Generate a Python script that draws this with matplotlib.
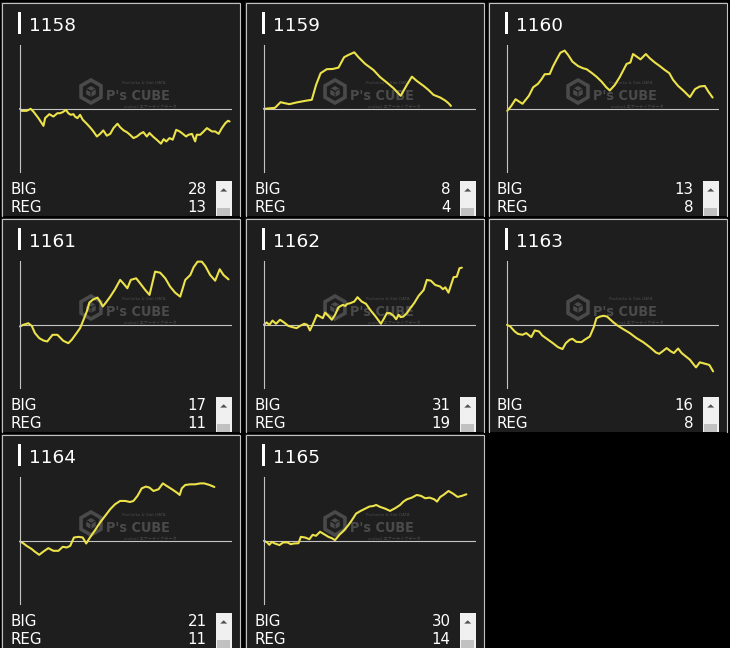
import matplotlib
matplotlib.use('Agg')
import matplotlib.pyplot as plt
from matplotlib import font_manager
from matplotlib.patches import Rectangle, RegularPolygon, Polygon

# 台番号・ボーナス回数
machines = ['1158', '1159', '1160', '1161', '1162', '1163', '1164', '1165']
big_counts = [28, 8, 13, 17, 31, 16, 21, 30]
reg_counts = [13, 4, 8, 11, 19, 8, 11, 14]

# スランプグラフ (G数, 差枚)
g1158 = [0, 60, 250, 400, 500, 690, 880, 940, 1100, 1250, 1400, 1500, 1600, 1720, 1810, 1900,
         2000, 2060, 2150, 2250, 2350, 2500, 2650, 2750, 2880, 3000, 3120, 3250, 3380, 3500,
         3650, 3750, 3880, 4000, 4120, 4250, 4380, 4500, 4620, 4750, 4850, 5000, 5120, 5280,
         5380, 5480, 5600, 5720, 5850, 5980, 6100, 6220, 6310, 6440, 6560, 6620, 6750, 6880,
         7000, 7100, 7190, 7310, 7440, 7560, 7690, 7790, 7850]
c1158 = [0, -150, -150, 0, -200, -700, -1280, -700, -400, -580, -330, -330, -250, -80, -330, -450,
         -400, -580, -700, -450, -820, -1120, -1450, -1700, -2080, -1880, -1620, -2020, -1880, -1450,
         -1120, -1380, -1620, -1750, -1950, -2200, -2080, -1880, -1750, -2080, -1820, -2120, -2320, -2620,
         -2280, -2450, -2200, -2320, -1580, -1700, -1880, -2080, -1950, -1880, -2450, -1950, -1950, -1700,
         -1450, -1580, -1700, -1700, -1880, -1450, -1080, -900, -950]

g1159 = [0, 410, 620, 790, 950, 1220, 1540, 1790, 1950, 2120, 2350, 2580, 2790, 3000, 3160, 3380,
         3540, 3790, 4100, 4350, 4600, 4850, 5120, 5350, 5540, 5720, 5980, 6160, 6350, 6600, 6790,
         6910, 7000]
c1159 = [0, 75, 500, 420, 350, 480, 600, 680, 1800, 2680, 2980, 3000, 3100, 3880, 4050, 4250,
         3880, 3380, 2920, 2380, 1980, 1550, 980, 1800, 2420, 2100, 1720, 1420, 1050, 850, 620,
         420, 220]

g1160 = [10, 160, 320, 450, 580, 700, 820, 980, 1160, 1290, 1410, 1600, 1720, 1850, 2000, 2160,
         2290, 2450, 2660, 2850, 2980, 3160, 3350, 3540, 3720, 3850, 4040, 4220, 4350, 4480, 4620,
         4720, 4820, 5000, 5200, 5350, 5540, 5720, 5910, 6080, 6220, 6410, 6600, 6850, 7040, 7220,
         7410, 7540, 7700]
c1160 = [-150, 220, 720, 550, 380, 680, 980, 1620, 1880, 2220, 2600, 2620, 3180, 3680, 4220, 4380,
         4050, 3550, 3220, 3050, 2980, 2720, 2420, 2050, 1620, 1380, 1800, 2380, 2880, 3380, 3480,
         4120, 3980, 3720, 4120, 3800, 3480, 3220, 2920, 2680, 2180, 1720, 1380, 880, 1480, 1680,
         1720, 1300, 850]

g1161 = [0, 120, 310, 440, 560, 720, 880, 1020, 1120, 1220, 1400, 1500, 1620, 1810, 1940, 2120,
         2250, 2380, 2500, 2600, 2720, 2900, 3000, 3100, 3220, 3380, 3560, 3750, 3900, 4020, 4150,
         4350, 4500, 4690, 4850, 5060, 5250, 5440, 5620, 5810, 6000, 6190, 6380, 6500, 6650, 6810,
         6940, 7120, 7310, 7480, 7620, 7810]
c1161 = [-120, 0, 120, -80, -620, -1000, -1180, -1250, -1000, -750, -750, -950, -1200, -1380, -1120, -620,
         -250, 380, 1000, 1680, 1880, 2050, 1750, 1380, 1680, 2120, 2680, 3380, 3050, 2750, 3380,
         3500, 3120, 2620, 2250, 4000, 3920, 3500, 2880, 2420, 2120, 3380, 3750, 4320, 4750, 4750,
         4420, 3750, 3320, 4180, 3750, 3420]

g1162 = [0, 100, 200, 320, 450, 600, 750, 910, 1080, 1220, 1350, 1510, 1620, 1720, 1820, 1980,
         2100, 2200, 2290, 2410, 2540, 2660, 2790, 2950, 3040, 3120, 3220, 3380, 3500, 3660, 3820,
         3980, 4160, 4380, 4500, 4600, 4720, 4850, 4950, 5040, 5120, 5220, 5350, 5480, 5620, 5790,
         5980, 6100, 6250, 6410, 6600, 6700, 6790, 6910, 7100, 7220, 7320, 7410]
c1162 = [0, 180, 0, 320, 80, 380, 180, -80, -180, -250, -80, 80, 0, -420, 0, 750,
         620, 500, 920, 680, 380, 750, 1320, 1500, 1420, 1580, 1620, 1750, 2080, 1750, 1580,
         1120, 680, 80, 500, 880, 880, 680, 420, 750, 580, 620, 880, 1250, 1620, 2180,
         2620, 3380, 3320, 3000, 2880, 2680, 2820, 2420, 3580, 3620, 4250, 4300]

g1163 = [0, 120, 290, 410, 580, 720, 910, 1040, 1200, 1320, 1540, 1720, 1910, 2080, 2200, 2350,
         2450, 2600, 2790, 2910, 3100, 3250, 3350, 3480, 3620, 3750, 3910, 4100, 4350, 4600, 4850,
         5100, 5350, 5580, 5700, 5820, 5980, 6140, 6250, 6410, 6540, 6700, 6850, 6950, 7080, 7220,
         7410, 7580, 7720]
c1163 = [0, -120, -500, -680, -750, -620, -920, -420, -500, -800, -1120, -1380, -1680, -1820, -1380, -1120,
         -1050, -1280, -1300, -1120, -880, -180, 500, 620, 680, 620, 320, 0, -320, -620, -1000,
         -1300, -1680, -2080, -2180, -2000, -1750, -2000, -2120, -1780, -2120, -2380, -2620, -2880, -3200, -2820,
         -2920, -3020, -3500]

g1164 = [0, 120, 250, 440, 560, 720, 880, 1060, 1250, 1440, 1600, 1750, 1880, 2020, 2190, 2350,
         2480, 2620, 2810, 3000, 3190, 3380, 3560, 3750, 3940, 4120, 4250, 4400, 4560, 4720, 4850,
         5000, 5190, 5350, 5500, 5690, 5880, 5980, 6060, 6190, 6380, 6560, 6750, 6900, 7100, 7280]
c1164 = [-50, -180, -380, -620, -820, -1050, -800, -550, -750, -750, -450, -500, -380, 250, 300, 250,
         -200, 250, 800, 1380, 1880, 2380, 2750, 3000, 3000, 2920, 3000, 3380, 3950, 4080, 4000,
         3750, 3880, 4320, 4120, 3880, 3620, 3450, 3950, 4200, 4250, 4250, 4320, 4320, 4200, 4050]

g1165 = [0, 120, 200, 290, 410, 580, 720, 880, 1000, 1120, 1290, 1380, 1540, 1700, 1820, 1950,
         2100, 2250, 2410, 2540, 2660, 2820, 2980, 3160, 3290, 3450, 3620, 3790, 3950, 4100, 4200,
         4350, 4540, 4720, 4910, 5100, 5220, 5350, 5540, 5720, 5880, 6040, 6200, 6380, 6480, 6600,
         6720, 6910, 7080, 7250, 7410, 7580]
c1165 = [0, -120, -300, -80, -200, -320, -120, -120, -250, -200, -180, 300, 250, 120, 450, 380,
         680, 500, 300, 200, 50, 450, 750, 1180, 1550, 2050, 2250, 2420, 2580, 2620, 2700,
         2550, 2420, 2250, 2450, 2700, 2950, 3120, 3250, 3450, 3380, 3200, 3250, 3120, 2950, 3300,
         3450, 3750, 3550, 3300, 3380, 3500]

games = [g1158, g1159, g1160, g1161, g1162, g1163, g1164, g1165]
coins = [c1158, c1159, c1160, c1161, c1162, c1163, c1164, c1165]

W, H = 730, 648
col_left = [1, 245, 488]
row_top = [2, 218, 434]
PW, PH = 239, 214

panel_bg = '#1e1e1e'
border = '#c2c2c2'
axis_gray = '#c4c4c4'
line_yellow = '#ece24a'
mark_gray = '#4a4a4a'

# ロゴ用フォント (細いものがあれば使う)
logo_font = font_manager.FontProperties(family='DejaVu Sans', weight='bold', stretch='condensed')
logo_size = 10.4 if 'Condensed' in font_manager.findfont(logo_font) else 9.3

fig = plt.figure(figsize=(W / 100, H / 100), dpi=100, facecolor='black')
bg = fig.add_axes([0, 0, 1, 1])
bg.set_xlim(0, W)
bg.set_ylim(H, 0)
bg.axis('off')

for i, name in enumerate(machines):
    r, c = divmod(i, 3)
    L, T = col_left[c], row_top[r]

    # パネル
    bg.add_patch(Rectangle((L, T), PW, PH, fc=panel_bg, ec='none'))
    bg.plot([L + 0.5, L + 0.5, L + PW - 0.5, L + PW - 0.5], [T + PH, T + 0.5, T + 0.5, T + PH],
            color=border, lw=0.8, solid_joinstyle='miter')

    # 見出し
    bg.add_patch(Rectangle((L + 17, T + 10), 3, 22, fc='white', ec='none'))
    bg.text(L + 28, T + 29, name, color='white', fontsize=13.3, va='baseline', ha='left')

    # ウォーターマーク
    cx, cy = L + 90, T + 89.5
    bg.add_patch(RegularPolygon((cx, cy), 6, radius=11.5, fc='none', ec=mark_gray, lw=2.6))
    bg.add_patch(RegularPolygon((cx, cy), 6, radius=5.5, fc=mark_gray, ec='none'))
    bg.plot([cx, cx, cx - 4.7, cx, cx + 4.7], [cy + 5.5, cy, cy - 2.7, cy, cy - 2.7],
            color=panel_bg, lw=0.7)
    bg.text(L + 105, T + 98, "P's CUBE", color=mark_gray, fontproperties=logo_font,
            fontsize=logo_size, va='baseline', ha='left')
    bg.text(L + 121, T + 82.5, 'Pachinko & Slot DATA', color=mark_gray, fontsize=3.0,
            va='baseline', ha='left')
    bg.text(L + 123, T + 106, 'andeu2 エアーライクデータ', color=mark_gray, fontsize=3.0,
            family=['Noto Sans CJK JP', 'DejaVu Sans'], va='baseline', ha='left')

    # BIG / REG
    bg.text(L + 9, T + 192, 'BIG', color='white', fontsize=10.8, va='baseline', ha='left')
    bg.text(L + 9, T + 210.3, 'REG', color='white', fontsize=10.8, va='baseline', ha='left')
    bg.text(L + 205.7, T + 192, str(big_counts[i]), color='white', fontsize=10.8,
            va='baseline', ha='right')
    bg.text(L + 205.7, T + 210.3, str(reg_counts[i]), color='white', fontsize=10.8,
            va='baseline', ha='right')

    # スクロールバー
    bg.add_patch(Rectangle((L + 214.7, T + 179), 16, PH - 179, fc='#f0f0f0', ec='none'))
    bg.add_patch(Rectangle((L + 215.7, T + 205.7), 13.3, PH - 205.7, fc='#c1c1c1', ec='none'))
    bg.add_patch(Polygon([[L + 222.7, T + 186.3], [L + 219.2, T + 189.6], [L + 226.2, T + 189.6]],
                         closed=True, fc='#505050', ec='none'))

    # グラフ
    ax = fig.add_axes([(L + 19) / W, 1 - (T + 170) / H, 212 / W, 127 / H])
    ax.set_facecolor('none')
    ax.set_xlim(0, 7940)
    ax.set_ylim(-4750, 4800)
    for s in ['top', 'right', 'bottom']:
        ax.spines[s].set_visible(False)
    ax.spines['left'].set_color(axis_gray)
    ax.spines['left'].set_linewidth(0.8)
    ax.set_xticks([])
    ax.set_yticks([])
    ax.axhline(0, color=axis_gray, lw=0.8)
    ax.plot(games[i], coins[i], color=line_yellow, lw=1.5, solid_joinstyle='round',
            solid_capstyle='round', clip_on=False)

fig.savefig('out.png', dpi=100, facecolor='black')
